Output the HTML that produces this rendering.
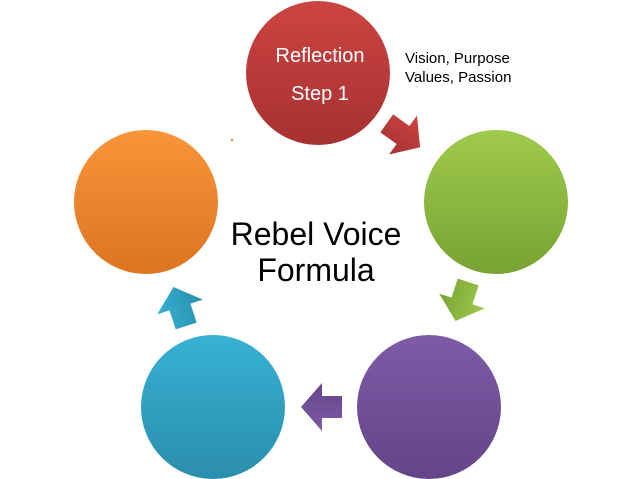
<!DOCTYPE html>
<html><head><style>html,body{margin:0;padding:0;background:#fff;}svg{display:block}</style></head>
<body>
<svg width="638" height="479" viewBox="0 0 638 479" xmlns="http://www.w3.org/2000/svg">
<defs>
<linearGradient id="r" x1="0" y1="0" x2="0" y2="1"><stop offset="0" stop-color="#cc4442"/><stop offset="1" stop-color="#a63131"/></linearGradient>
<linearGradient id="g" x1="0" y1="0" x2="0" y2="1"><stop offset="0" stop-color="#9fca4b"/><stop offset="1" stop-color="#78a334"/></linearGradient>
<linearGradient id="p" x1="0" y1="0" x2="0" y2="1"><stop offset="0" stop-color="#7d5ba6"/><stop offset="1" stop-color="#634587"/></linearGradient>
<linearGradient id="b" x1="0" y1="0" x2="0" y2="1"><stop offset="0" stop-color="#37b1d4"/><stop offset="1" stop-color="#2a8eab"/></linearGradient>
<linearGradient id="o" x1="0" y1="0" x2="0" y2="1"><stop offset="0" stop-color="#f8953a"/><stop offset="1" stop-color="#dd7420"/></linearGradient>
</defs>
<circle cx="318" cy="73" r="72" fill="url(#r)"/>
<circle cx="496" cy="202" r="72" fill="url(#g)"/>
<circle cx="429" cy="407" r="72" fill="url(#p)"/>
<circle cx="213" cy="407" r="72" fill="url(#b)"/>
<circle cx="146" cy="202" r="72" fill="url(#o)"/>
<g transform="translate(403,135) rotate(35.5)"><polygon points="-20,-11 0,-11 0,-24 21,0 0,24 0,11 -20,11" fill="url(#r)"/></g>
<g transform="translate(462,301) rotate(108)"><polygon points="-20,-11 0,-11 0,-24 21,0 0,24 0,11 -20,11" fill="url(#g)"/></g>
<g transform="translate(322,407) rotate(180)"><polygon points="-20,-11 0,-11 0,-24 21,0 0,24 0,11 -20,11" fill="url(#p)"/></g>
<g transform="translate(180,307) rotate(-108)"><polygon points="-20,-11 0,-11 0,-24 21,0 0,24 0,11 -20,11" fill="url(#b)"/></g>
<circle cx="232" cy="140" r="1.2" fill="#e07a30"/>
<text x="320" y="62" fill="#fff" font-family="Liberation Sans, sans-serif" font-size="20" text-anchor="middle">Reflection</text>
<text x="320" y="100" fill="#fff" font-family="Liberation Sans, sans-serif" font-size="20" text-anchor="middle">Step 1</text>
<text x="405" y="63" fill="#000" font-family="Liberation Sans, sans-serif" font-size="15">Vision, Purpose</text>
<text x="405" y="82" fill="#000" font-family="Liberation Sans, sans-serif" font-size="15">Values, Passion</text>
<text x="316" y="245" fill="#000" font-family="Liberation Sans, sans-serif" font-size="32" text-anchor="middle">Rebel Voice</text>
<text x="316" y="281" fill="#000" font-family="Liberation Sans, sans-serif" font-size="32" text-anchor="middle">Formula</text>
</svg>
</body></html>
